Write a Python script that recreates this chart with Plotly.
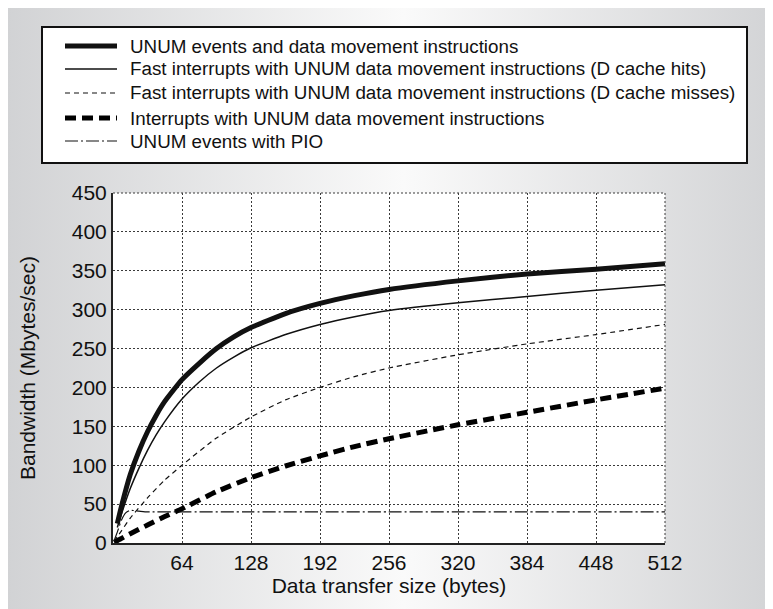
import base64
import plotly.graph_objects as go

# ---------------- data ----------------
sizes_a = [4, 8, 16, 24, 32, 40, 48, 64, 80, 96, 112, 128, 160, 192, 224, 256, 320, 384, 448, 512]
unum_events = [25, 48, 88, 118, 143, 164, 182, 210, 231, 250, 265, 277, 295, 308, 318, 326, 337, 346, 352, 359]
fast_hits = [20, 38, 70, 96, 119, 139, 156, 185, 207, 225, 239, 251, 268, 281, 291, 299, 309, 317, 325, 332]

sizes_b = [1, 4, 8, 16, 32, 48, 64, 96, 128, 160, 192, 224, 256, 320, 384, 448, 512]
fast_misses = [2, 8, 16, 32, 58, 81, 100, 135, 162, 184, 200, 214, 225, 242, 256, 268, 281]
interrupts = [1, 3, 6, 12, 23, 34, 44, 66, 84, 99, 112, 124, 134, 152, 168, 184, 199]

sizes_pio = [1, 4, 8, 12, 16, 24, 32, 64, 128, 192, 256, 320, 384, 448, 512]
pio = [3, 14, 30, 39, 42, 41, 40, 40, 40, 40, 40, 40, 40, 40, 40]

x_ticks = [64, 128, 192, 256, 320, 384, 448, 512]
y_ticks = [0, 50, 100, 150, 200, 250, 300, 350, 400, 450]

names = [
    "UNUM events and data movement instructions",
    "Fast interrupts with UNUM data movement instructions (D cache hits)",
    "Fast interrupts with UNUM data movement instructions (D cache misses)",
    "Interrupts with UNUM data movement instructions",
    "UNUM events with PIO",
]

# ---------------- styles ----------------
# the page places the figure 8px from the top-left corner
W, H = 765, 601
L, R, T, B = 105, 657, 185, 535  # plot area in figure px
FONT = "Liberation Sans, Arial, sans-serif"
styles = [
    dict(color="#111111", width=5, dash="solid"),
    dict(color="#111111", width=1.5, dash="solid"),
    dict(color="#111111", width=1.2, dash="5px,4px"),
    dict(color="#000000", width=5, dash="11px,6px"),
    dict(color="#111111", width=1.2, dash="13px,3px,2px,3px"),
]
GRID = dict(showgrid=True, gridcolor="#3a3a3a", gridwidth=1, griddash="2px,2px")

fig = go.Figure()
series = [
    (sizes_a, unum_events),
    (sizes_a, fast_hits),
    (sizes_b, fast_misses),
    (sizes_b, interrupts),
    (sizes_pio, pio),
]
for (xs, ys), nm, st in zip(series, names, styles):
    fig.add_trace(go.Scatter(x=xs, y=ys, mode="lines", name=nm,
                             line=dict(shape="spline", smoothing=0.5, **st),
                             showlegend=False, hoverinfo="skip"))

def px_x(p):
    return (p - L) / (R - L)

def px_y(p):
    return (B - p) / (B - T)

# background gradient as svg image
svg = ('<svg xmlns="http://www.w3.org/2000/svg" width="770" height="606">'
       '<defs><linearGradient id="g" x1="0" y1="0" x2="1" y2="0">'
       '<stop offset="0" stop-color="#d1d2d4"/>'
       '<stop offset="0.52" stop-color="#fafafa"/>'
       '<stop offset="1" stop-color="#d3d4d6"/>'
       '</linearGradient></defs>'
       '<rect width="770" height="606" fill="url(#g)"/></svg>')
uri = "data:image/svg+xml;base64," + base64.b64encode(svg.encode()).decode()

shapes = []
annotations = []
# white plot area
shapes.append(dict(type="rect", xref="paper", yref="paper", x0=0, x1=1, y0=0, y1=1,
                   fillcolor="white", line=dict(width=0), layer="below"))
# legend box
shapes.append(dict(type="rect", xref="paper", yref="paper",
                   x0=px_x(34), x1=px_x(739), y0=px_y(155), y1=px_y(19),
                   fillcolor="white", line=dict(color="#111111", width=2), layer="above"))
entry_y = [38, 61, 85, 110, 133]
for nm, st, ey in zip(names, styles, entry_y):
    shapes.append(dict(type="line", xref="paper", yref="paper",
                       x0=px_x(57), x1=px_x(109), y0=px_y(ey), y1=px_y(ey),
                       line=dict(color=st["color"], width=st["width"], dash=st["dash"]),
                       layer="above"))
    annotations.append(dict(xref="paper", yref="paper", x=px_x(120), y=px_y(ey),
                            xanchor="left", yanchor="middle", showarrow=False,
                            text=nm, font=dict(family=FONT, size=18.8, color="#111111")))
# dotted top and right borders of the plot
shapes.append(dict(type="line", xref="paper", yref="paper", x0=0, x1=1, y0=1, y1=1,
                   line=dict(color="#3a3a3a", width=1, dash="2px,2px")))
shapes.append(dict(type="line", xref="paper", yref="paper", x0=1, x1=1, y0=0, y1=1,
                   line=dict(color="#3a3a3a", width=1, dash="2px,2px")))

fig.update_layout(
    width=W, height=H,
    margin=dict(l=L, r=W - R, t=T, b=H - B),
    paper_bgcolor="white", plot_bgcolor="white",
    images=[dict(source=uri, xref="paper", yref="paper",
                 x=px_x(-5), y=px_y(-5), sizex=770 / (R - L), sizey=606 / (B - T),
                 xanchor="left", yanchor="top", sizing="stretch", layer="below")],
    shapes=shapes, annotations=annotations,
    showlegend=False,
    font=dict(family=FONT, size=21, color="#111111"),
)
fig.update_xaxes(range=[0, 512], tickvals=x_ticks, ticktext=[str(v) for v in x_ticks],
                 showline=True, linecolor="#222222", linewidth=2, mirror=False,
                 zeroline=False, ticks="", tickfont=dict(size=21),
                 title=dict(text="Data transfer size (bytes)", font=dict(size=21), standoff=0),
                 **GRID)
fig.update_yaxes(range=[0, 450], tickvals=y_ticks, ticktext=[str(v) for v in y_ticks],
                 showline=True, linecolor="#222222", linewidth=2, mirror=False,
                 zeroline=False, ticks="", tickfont=dict(size=21),
                 title=dict(text="Bandwidth (Mbytes/sec)", font=dict(size=21), standoff=30),
                 **GRID)

fig.write_html("out.html")
